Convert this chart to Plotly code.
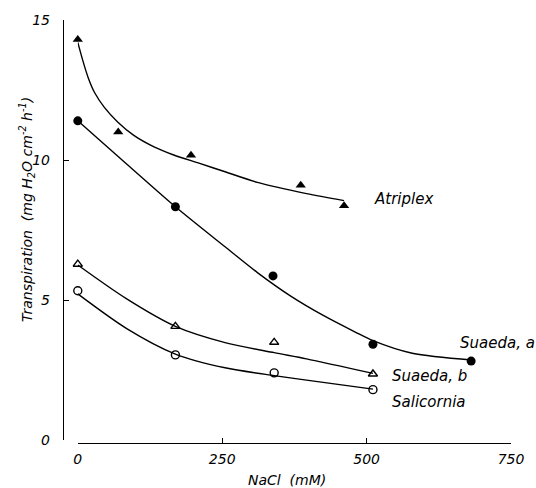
import plotly.graph_objects as go

# Measured points
atriplex_x = [0, 70, 196, 386, 461]
atriplex_y = [14.3, 11.0, 10.17, 9.1, 8.37]
suaeda_a_x = [0, 169, 338, 511, 681]
suaeda_a_y = [11.4, 8.33, 5.86, 3.42, 2.82]
suaeda_b_x = [0, 169, 340, 511]
suaeda_b_y = [6.28, 4.06, 3.49, 2.36]
salicornia_x = [0, 169, 340, 511]
salicornia_y = [5.33, 3.04, 2.4, 1.8]

# Fitted curves
atriplex_cx = [0, 9, 18, 29, 46, 69, 97, 132, 166, 211, 255, 311, 396, 461]
atriplex_cy = [14.2, 13.53, 12.94, 12.41, 11.88, 11.36, 10.88, 10.47, 10.18, 9.88, 9.58, 9.2, 8.8, 8.55]
suaeda_a_cx = [0, 85, 169, 255, 311, 368, 425, 482, 511, 579, 682]
suaeda_a_cy = [11.4, 9.85, 8.33, 6.9, 5.98, 5.15, 4.45, 3.84, 3.55, 3.1, 2.86]
suaeda_b_cx = [0, 84, 169, 255, 340, 396, 511]
suaeda_b_cy = [6.25, 5.05, 4.06, 3.48, 3.12, 2.9, 2.38]
salicornia_cx = [0, 84, 169, 255, 340, 396, 511]
salicornia_cy = [5.22, 3.99, 3.07, 2.58, 2.3, 2.14, 1.82]

x_ticks = [0, 250, 500, 750]
y_ticks = [0, 5, 10, 15]

labels = ["Atriplex", "Suaeda, a", "Suaeda, b", "Salicornia"]
label_x = [510, 658, 540, 540]
label_y = [8.6, 3.45, 2.3, 1.35]

FONT = "DejaVu Sans"
fig = go.Figure()

for cx, cy in [(atriplex_cx, atriplex_cy), (suaeda_a_cx, suaeda_a_cy),
               (suaeda_b_cx, suaeda_b_cy), (salicornia_cx, salicornia_cy)]:
    fig.add_trace(go.Scatter(x=cx, y=cy, mode="lines", cliponaxis=False,
                             line=dict(color="black", width=1.4, shape="spline", smoothing=0.8),
                             showlegend=False, hoverinfo="skip"))

fig.add_trace(go.Scatter(x=atriplex_x, y=atriplex_y, mode="markers", cliponaxis=False,
                         marker=dict(symbol="triangle-up", size=9, color="black"), showlegend=False))
fig.add_trace(go.Scatter(x=suaeda_a_x, y=suaeda_a_y, mode="markers", cliponaxis=False,
                         marker=dict(symbol="circle", size=9, color="black"), showlegend=False))
fig.add_trace(go.Scatter(x=suaeda_b_x, y=suaeda_b_y, mode="markers", cliponaxis=False,
                         marker=dict(symbol="triangle-up-open", size=8, color="black", line=dict(width=1.4)), showlegend=False))
fig.add_trace(go.Scatter(x=salicornia_x, y=salicornia_y, mode="markers", cliponaxis=False,
                         marker=dict(symbol="circle-open", size=8, color="black", line=dict(width=1.4)), showlegend=False))

for t, lx, ly in zip(labels, label_x, label_y):
    fig.add_annotation(x=lx, y=ly, text=t, showarrow=False, xanchor="left", yanchor="middle",
                       font=dict(family=FONT, size=15, style="italic", color="black"))

fig.add_annotation(xref="paper", yref="paper", x=0, y=0.551, xshift=-36, textangle=-90,
                   text="Transpiration  (mg H<sub>2</sub>O cm<sup>-2</sup> h<sup>-1</sup>)",
                   showarrow=False, xanchor="center", yanchor="middle",
                   font=dict(family=FONT, size=14, style="italic", color="black"))
fig.add_annotation(xref="paper", yref="paper", x=0.5, y=0, yshift=-37, text="NaCl  (mM)",
                   showarrow=False, xanchor="center", yanchor="middle",
                   font=dict(family=FONT, size=14, style="italic", color="black"))

fig.update_layout(
    width=536, height=488,
    margin=dict(l=63, r=19, t=15, b=45),
    paper_bgcolor="white", plot_bgcolor="white",
    xaxis=dict(domain=[0.033, 1], range=[0, 750], tickvals=x_ticks, showline=True, linecolor="black",
               linewidth=1.4, ticks="inside", ticklen=5, tickwidth=1.4, tickcolor="black",
               showgrid=False, zeroline=False, anchor="free", position=0, ticklabelstandoff=3,
               tickfont=dict(family=FONT, size=14, style="italic", color="black")),
    yaxis=dict(domain=[0.007, 1], range=[0, 15], tickvals=y_ticks, showline=True, linecolor="black",
               linewidth=1.4, ticks="inside", ticklen=5, tickwidth=1.4, tickcolor="black",
               showgrid=False, zeroline=False, anchor="free", position=0, ticklabelstandoff=10,
               tickfont=dict(family=FONT, size=14, style="italic", color="black")),
)

fig.write_html("out.html")
